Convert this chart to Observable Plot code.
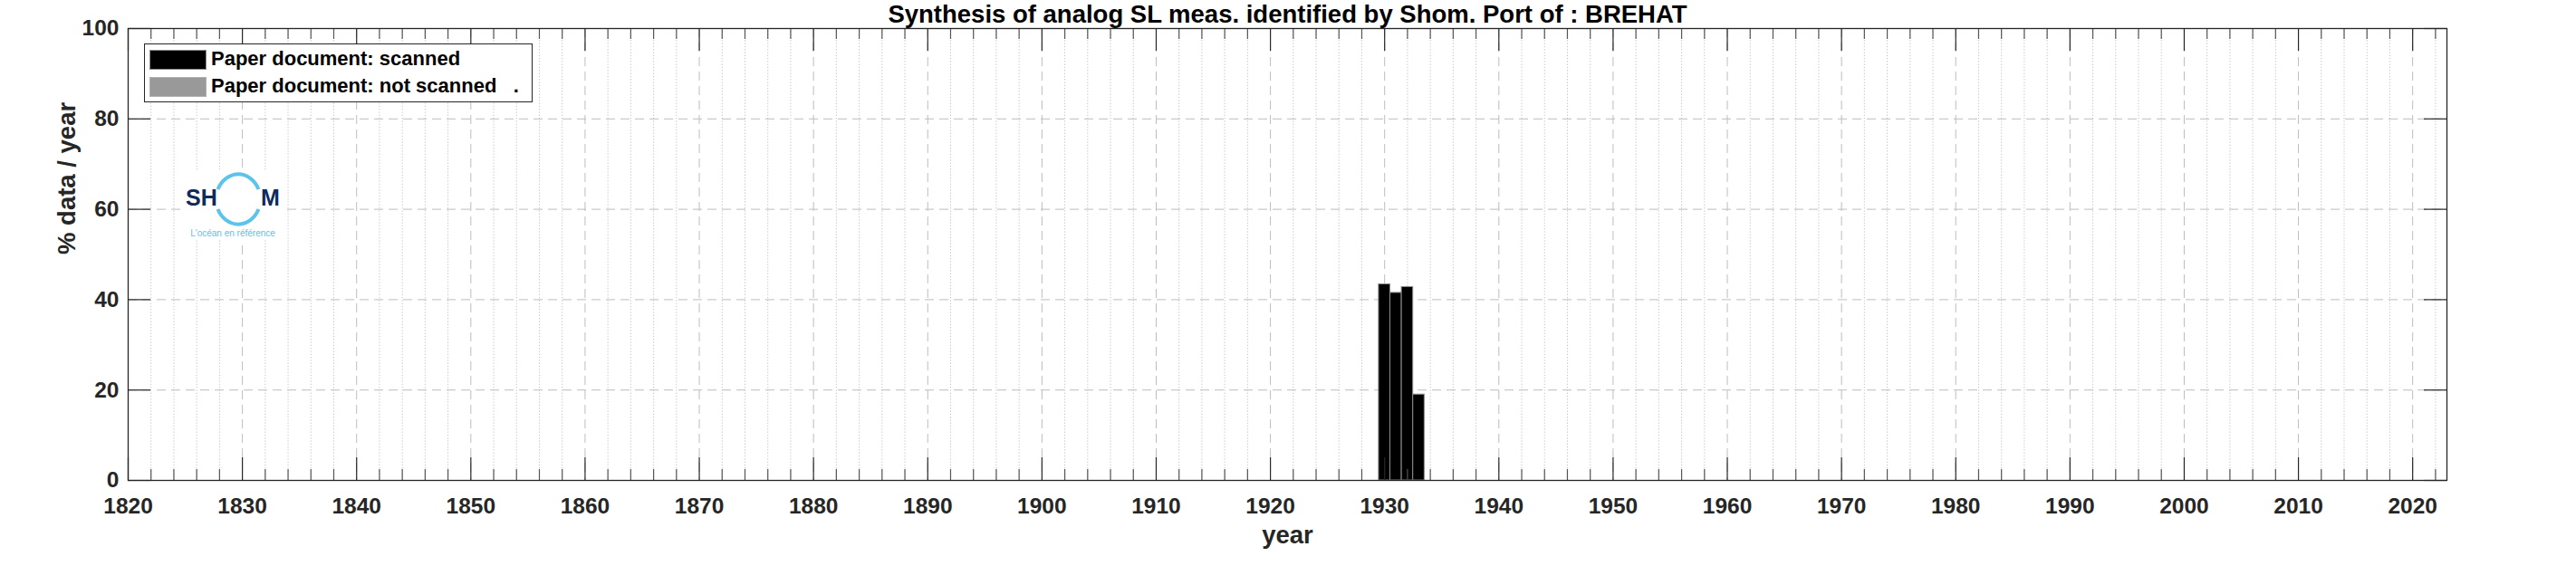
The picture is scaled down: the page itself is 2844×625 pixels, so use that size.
<!DOCTYPE html>
<html>
<head>
<meta charset="utf-8">
<script src="https://cdn.jsdelivr.net/npm/d3@7"></script>
<script src="https://cdn.jsdelivr.net/npm/@observablehq/plot@0.6"></script>
<style>
  html, body { margin: 0; padding: 0; background: white; }
  #wrap { position: relative; width: 2844px; height: 625px; overflow: hidden; }
  #legend {
    position: absolute; left: 159px; top: 48px; width: 427px; height: 63px;
    border: 1.3px solid #262626; background: white;
    font-family: "Liberation Sans", Arial, sans-serif; font-weight: bold; font-size: 22px; color: #000;
  }
  .row { position: absolute; left: 0; height: 22px; }
  .sw { position: absolute; left: 5px; top: 0; width: 61px; height: 20px; }
  .lt { position: absolute; left: 73px; top: -1px; white-space: pre; line-height: 22px; }
  #logo { position: absolute; left: 0; top: 0; }
</style>
</head>
<body>
<div id="wrap"></div>
<script>
// ---- data ----
const years = [1930, 1931, 1932, 1933];
const scanned = [43.4, 41.5, 42.8, 19.0];
const notScanned = [0, 0, 0, 0];
const xTicks = [1820, 1830, 1840, 1850, 1860, 1870, 1880, 1890, 1900, 1910, 1920,
                1930, 1940, 1950, 1960, 1970, 1980, 1990, 2000, 2010, 2020];
const yTicks = [0, 20, 40, 60, 80, 100];
const titleText = "Synthesis of analog SL meas. identified by Shom. Port of : BREHAT";
const xLabel = "year";
const yLabel = "% data / year";
const legendLabels = ["Paper document: scanned", "Paper document: not scanned   ."];
const seriesColors = ["#000000", "#999999"];

// ---- derived ----
const rows = years.map((y, i) => ({year: y, scanned: scanned[i], notScanned: notScanned[i]}));
const minorX = d3.range(1822, 2023, 2).filter(v => v % 10 !== 0);
const innerH = 625 - 31 - 95;
const innerW = 2844 - 141 - 143;
const axisColor = "#262626";

const chart = Plot.plot({
  width: 2844,
  height: 625,
  marginLeft: 141,
  marginRight: 143,
  marginTop: 31,
  marginBottom: 95,
  x: {domain: [1820, 2023]},
  y: {domain: [0, 100]},
  style: {fontFamily: "'Liberation Sans', Arial, sans-serif", fontWeight: "bold", fontSize: "24px", color: axisColor, background: "white"},
  marks: [
    // grid
    Plot.ruleX(minorX, {x: d => d, stroke: "#c4c4c4", strokeWidth: 1, strokeDasharray: "1.3,2"}),
    Plot.ruleX(xTicks, {x: d => d, stroke: "#bdbdbd", strokeWidth: 1, strokeDasharray: "10,6"}),
    Plot.ruleY(yTicks.filter(v => v > 0 && v < 100), {y: d => d, stroke: "#bdbdbd", strokeWidth: 1, strokeDasharray: "10,6"}),
    // bars
    Plot.rectY(rows, {x1: d => d.year - 0.5, x2: d => d.year + 0.5, y1: 0, y2: "scanned", fill: seriesColors[0], stroke: "#8c8c8c", strokeWidth: 1}),
    Plot.rectY(rows.filter(d => d.notScanned > 0), {x1: d => d.year - 0.5, x2: d => d.year + 0.5, y1: "scanned", y2: d => d.scanned + d.notScanned, fill: seriesColors[1], stroke: "#8c8c8c", strokeWidth: 1}),
    // ticks (inward)
    Plot.tickX(xTicks, {x: d => d, insetTop: innerH - 25, stroke: axisColor, strokeWidth: 1.2}),
    Plot.tickX(xTicks, {x: d => d, insetBottom: innerH - 25, stroke: axisColor, strokeWidth: 1.2}),
    Plot.tickX(minorX, {x: d => d, insetTop: innerH - 12, stroke: "#555", strokeWidth: 1.2}),
    Plot.tickX(minorX, {x: d => d, insetBottom: innerH - 12, stroke: "#555", strokeWidth: 1.2}),
    Plot.tickY(yTicks, {y: d => d, insetRight: innerW - 25, stroke: axisColor, strokeWidth: 1.2}),
    Plot.tickY(yTicks, {y: d => d, insetLeft: innerW - 25, stroke: axisColor, strokeWidth: 1.2}),
    // axes labels
    Plot.axisX({ticks: xTicks, tickSize: 0, tickPadding: 19, tickFormat: d => String(d), label: null, fontSize: 24.5, fill: axisColor}),
    Plot.axisY({ticks: yTicks, tickSize: 0, tickPadding: 10, label: null, fontSize: 24.5, fill: axisColor}),
    Plot.text([xLabel], {text: d => d, frameAnchor: "bottom", dy: 69, lineAnchor: "bottom", fontSize: 27.5, fill: axisColor}),
    Plot.text([yLabel], {text: d => d, frameAnchor: "left", dx: -59, rotate: -90, lineAnchor: "bottom", fontSize: 27.5, fill: axisColor}),
    Plot.text([titleText], {text: d => d, frameAnchor: "top", dy: -7, lineAnchor: "bottom", fontSize: 27.5, fill: "#000"}),
    Plot.frame({stroke: axisColor, strokeWidth: 1.3})
  ]
});

const wrap = document.getElementById("wrap");
wrap.appendChild(chart);

// logo overlay
const ns = "http://www.w3.org/2000/svg";
const logo = document.createElementNS(ns, "svg");
logo.setAttribute("id", "logo");
logo.setAttribute("width", 2844);
logo.setAttribute("height", 625);
logo.innerHTML = `
  <rect x="200" y="188" width="112" height="77" fill="white"/>
  <path d="M 240.5 209 A 25 29.5 0 0 1 285.5 209" fill="none" stroke="#5cc3ea" stroke-width="4"/>
  <path d="M 285.5 231 A 25 29.5 0 0 1 240.5 231" fill="none" stroke="#5cc3ea" stroke-width="4"/>
  <text x="205" y="227" font-family="'Liberation Sans', Arial, sans-serif" font-weight="bold" font-size="25" fill="#0e2b5c">SH</text>
  <text x="288" y="227" font-family="'Liberation Sans', Arial, sans-serif" font-weight="bold" font-size="25" fill="#0e2b5c">M</text>
  <text x="257" y="261" text-anchor="middle" font-family="'Liberation Sans', Arial, sans-serif" font-size="10" fill="#5cc3ea">L'océan en référence</text>
`;
wrap.appendChild(logo);

// legend
const leg = document.createElement("div");
leg.id = "legend";
legendLabels.forEach((lab, i) => {
  const r = document.createElement("div");
  r.className = "row";
  r.style.top = (6 + i * 30) + "px";
  r.style.width = "100%";
  const sw = document.createElement("div");
  sw.className = "sw";
  sw.style.background = seriesColors[i];
  sw.style.border = "1px solid " + (i === 0 ? "#8c8c8c" : "#b0b0b0");
  const t = document.createElement("div");
  t.className = "lt";
  t.textContent = lab;
  r.appendChild(sw);
  r.appendChild(t);
  leg.appendChild(r);
});
wrap.appendChild(leg);
</script>
</body>
</html>
